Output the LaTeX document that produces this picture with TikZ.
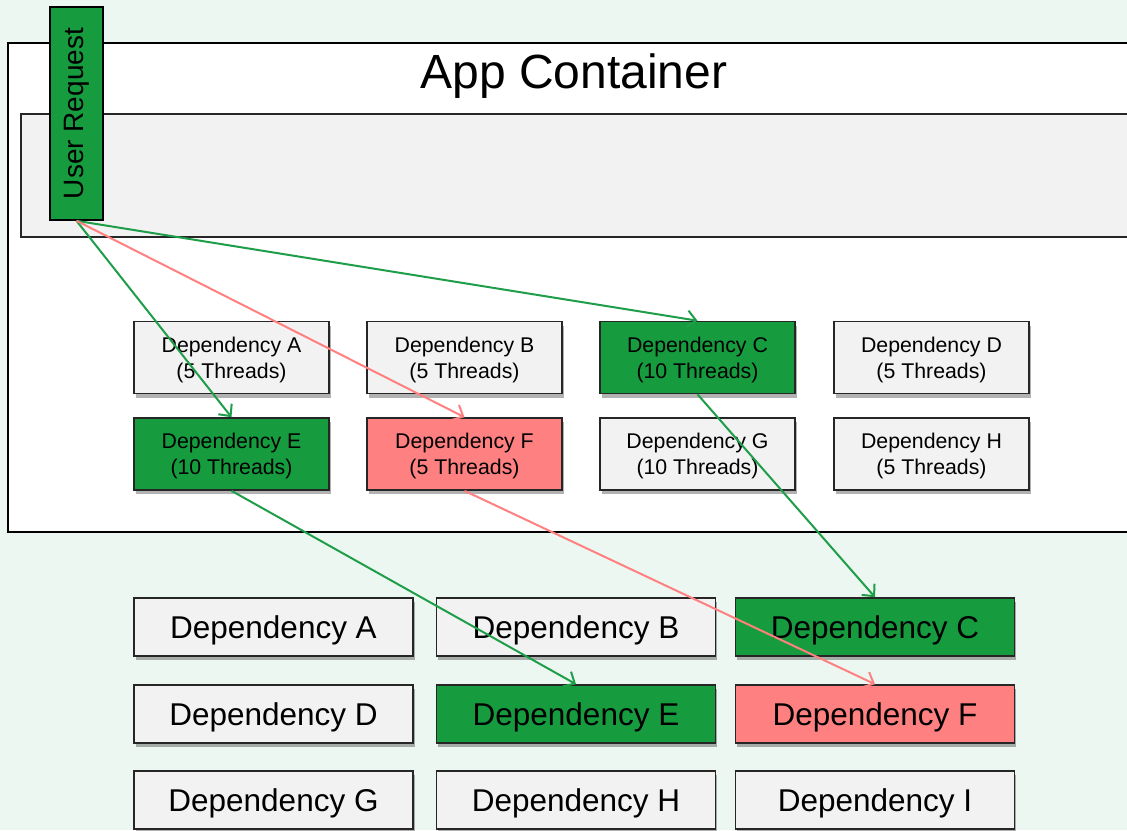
\documentclass[tikz,border=0pt]{standalone}
\usepackage{fontspec}
\setmainfont{Liberation Sans}
\usetikzlibrary{arrows.meta,shadows}
\definecolor{hgrund}{HTML}{EDF7F1}
\definecolor{gruen}{HTML}{169B3F}
\definecolor{linegruen}{HTML}{1E9E48}
\definecolor{rot}{HTML}{FF8080}
\definecolor{grau}{HTML}{F2F2F2}
\tikzset{
  dep/.style={draw=black!85, line width=1.6pt, fill=grau,
    minimum width=195pt, minimum height=72pt, inner sep=0pt, align=center,
    text depth=0pt, font=\fontsize{21.3}{26}\selectfont,
    drop shadow={shadow xshift=1.5pt, shadow yshift=-4pt, opacity=.3, fill=black}},
  bigdep/.style={dep, minimum width=279pt, minimum height=58pt,
    font=\fontsize{31.5}{36}\selectfont},
  ok/.style={fill=gruen},
  fail/.style={fill=rot},
  pfeil/.style={line width=2pt, -{Straight Barb[length=9pt,width=17pt]}}
}
\begin{document}
\begin{tikzpicture}[x=1pt, y=-1pt]
    % Hintergrund
    \fill [hgrund] (0, 0) rectangle (1127, 830);
    \useasboundingbox (0, 0) rectangle (1127, 830);
    % Container
    \draw [line width=1.5pt, fill=white] (8, 43) rectangle (1140, 532);
    \draw [line width=1.5pt, draw=black!85, fill=grau] (21, 114) rectangle (1140, 237);
    \node [font=\fontsize{48}{52}\selectfont] (titel) at (574, 76) {App Container};
    \node [draw, line width=1.6pt, fill=gruen, rotate=90, minimum width=213pt,
        minimum height=53pt, inner sep=0pt, font=\fontsize{28}{32}\selectfont]
        (anfrage) at (76.5, 113.5) {User Request};
    % Threadpools
    \node [dep]      (kA) at (231.5, 357.5) {Dependency A\\(5 Threads)};
    \node [dep]      (kB) at (464.5, 357.5) {Dependency B\\(5 Threads)};
    \node [dep, ok]  (kC) at (697.5, 357.5) {Dependency C\\(10 Threads)};
    \node [dep]      (kD) at (931.5, 357.5) {Dependency D\\(5 Threads)};
    \node [dep, ok]  (kE) at (231.5, 454)   {Dependency E\\(10 Threads)};
    \node [dep, fail](kF) at (464.5, 454)   {Dependency F\\(5 Threads)};
    \node [dep]      (kG) at (697.5, 454)   {Dependency G\\(10 Threads)};
    \node [dep]      (kH) at (931.5, 454)   {Dependency H\\(5 Threads)};
    % Abhaengigkeiten
    \node [bigdep]       (gA) at (273.5, 627) {Dependency A};
    \node [bigdep]       (gB) at (576, 627)   {Dependency B};
    \node [bigdep, ok]   (gC) at (875, 627)   {Dependency C};
    \node [bigdep]       (gD) at (273.5, 714) {Dependency D};
    \node [bigdep, ok]   (gE) at (576, 714)   {Dependency E};
    \node [bigdep, fail] (gF) at (875, 714)   {Dependency F};
    \node [bigdep]       (gG) at (273.5, 800) {Dependency G};
    \node [bigdep]       (gH) at (576, 800)   {Dependency H};
    \node [bigdep]       (gI) at (875, 800)   {Dependency I};
    % Pfeile
    \draw [pfeil, linegruen] (anfrage.west) -- (kC.north);
    \draw [pfeil, linegruen] (anfrage.west) -- (kE.north);
    \draw [pfeil, rot]       (anfrage.west) -- (kF.north);
    \draw [pfeil, linegruen] (kE.south) -- (gE.north);
    \draw [pfeil, rot]       (kF.south) -- (gF.north);
    \draw [pfeil, linegruen] (kC.south) -- (gC.north);
\end{tikzpicture}
\end{document}
